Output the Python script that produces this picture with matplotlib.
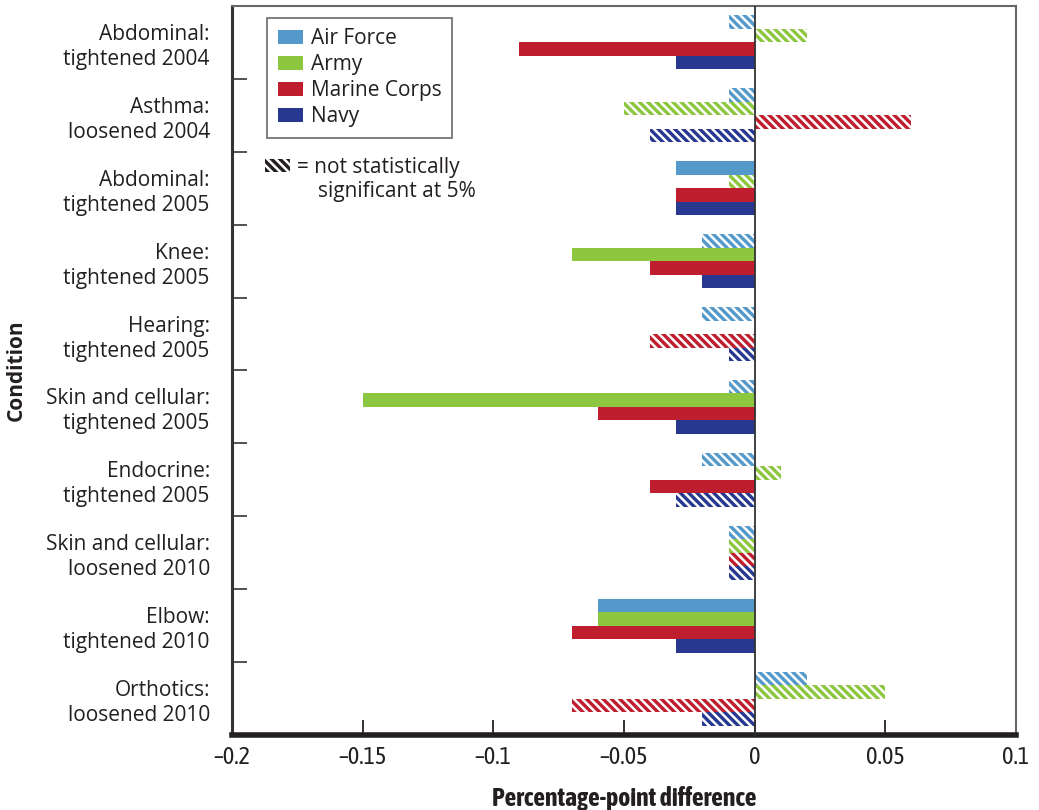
import matplotlib
matplotlib.use("Agg")
import matplotlib.pyplot as plt
import numpy as np
from matplotlib.patches import Patch, Rectangle

categories = [
    "Abdominal:\ntightened 2004",
    "Asthma:\nloosened 2004",
    "Abdominal:\ntightened 2005",
    "Knee:\ntightened 2005",
    "Hearing:\ntightened 2005",
    "Skin and cellular:\ntightened 2005",
    "Endocrine:\ntightened 2005",
    "Skin and cellular:\nloosened 2010",
    "Elbow:\ntightened 2010",
    "Orthotics:\nloosened 2010",
]
series_names = ["Air Force", "Army", "Marine Corps", "Navy"]
air_force = [-0.01, -0.01, -0.03, -0.02, -0.02, -0.01, -0.02, -0.01, -0.06, 0.02]
army = [0.02, -0.05, -0.01, -0.07, 0.0, -0.15, 0.01, -0.01, -0.06, 0.05]
marine_corps = [-0.09, 0.06, -0.03, -0.04, -0.04, -0.06, -0.04, -0.01, -0.07, -0.07]
navy = [-0.03, -0.04, -0.03, -0.02, -0.01, -0.03, -0.03, -0.01, -0.03, -0.02]
# True = statistically significant (solid), False = hatched
air_force_sig = [False, False, True, False, False, False, False, False, True, False]
army_sig = [False, False, False, True, False, True, False, False, True, False]
marine_corps_sig = [True, False, True, True, False, True, True, False, True, False]
navy_sig = [True, False, True, True, False, True, False, False, True, False]
x_ticks = [-0.2, -0.15, -0.1, -0.05, 0, 0.05, 0.1]
x_tick_labels = ["\u20130.2", "\u20130.15", "\u20130.1", "\u20130.05", "0", "0.05", "0.1"]

colors = ["#5499C9", "#8DC63F", "#BE1E2D", "#283891"]
values = [air_force, army, marine_corps, navy]
sigs = [air_force_sig, army_sig, marine_corps_sig, navy_sig]

COND = ['Asap Condensed', 'DejaVu Sans']
HATCH = '\\\\\\\\'

plt.rcParams['font.family'] = ['Open Sans', 'DejaVu Sans']
plt.rcParams['hatch.linewidth'] = 1.8

fig = plt.figure(figsize=(10.39, 8.10), dpi=100)
ax = fig.add_axes([232/1039, 1 - 735/810, (1016-232)/1039, (735-6)/810])

bar_h = 0.185
y = np.arange(len(categories))
for k, (vals, sg, col) in enumerate(zip(values, sigs, colors)):
    offs = (k - 1.5) * bar_h
    for i, (v, s) in enumerate(zip(vals, sg)):
        if v == 0:
            continue
        if s:
            ax.barh(y[i] + offs, v, height=bar_h, color=col, linewidth=0)
        else:
            ax.barh(y[i] + offs, v, height=bar_h, color=col, hatch=HATCH,
                    edgecolor='white', linewidth=0)

ax.set_ylim(len(categories) - 0.5, -0.5)
ax.set_xlim(-0.2, 0.1)
ax.axvline(0, color='#333333', linewidth=1.3, zorder=3)

ax.set_yticks(y)
ax.set_yticklabels(categories, fontsize=15, color='#231F20', linespacing=1.25)
ax.tick_params(axis='y', which='major', length=0, pad=16)
ax.set_yticks(np.arange(0.5, len(categories) - 0.5, 1), minor=True)
ax.tick_params(axis='y', which='minor', direction='in', length=11, width=1.3, color='#444444')

ax.set_xticks(x_ticks)
ax.set_xticklabels(x_tick_labels, fontsize=17.5, family=COND, color='#231F20')
ax.tick_params(axis='x', direction='in', length=11, width=1.3, color='#222222', pad=8)

for side in ['top', 'right']:
    ax.spines[side].set_color('#666666')
    ax.spines[side].set_linewidth(1.5)
ax.spines['left'].set_color('#333333')
ax.spines['left'].set_linewidth(2.2)
ax.spines['bottom'].set_color('#231F20')
ax.spines['bottom'].set_linewidth(4)

ax.set_xlabel("Percentage-point difference", fontsize=18.5, fontweight='bold',
              family=COND, labelpad=12, color='#231F20')
ax.set_ylabel("Condition", fontsize=15, fontweight='bold', color='#231F20')
ax.yaxis.set_label_coords(-0.262, 0.5)

handles = [Patch(facecolor=c, edgecolor='none', label=n) for c, n in zip(colors, series_names)]
leg = ax.legend(handles=handles, loc='upper left', bbox_to_anchor=(0.045, 1 - 12 / 729),
                fontsize=15, frameon=True, fancybox=False, edgecolor='#444444',
                handlelength=1.2, handleheight=0.65, handletextpad=0.4, labelspacing=0.24,
                borderpad=0.5, borderaxespad=0)
leg.get_frame().set_linewidth(1.2)
for t in leg.get_texts():
    t.set_color('#231F20')

# hatched key (positions in axes fractions)
kx = (265 - 232) / 784
kw = 25 / 784
ky = 1 - (172 - 6) / 729
kh = 13 / 729
rect = Rectangle((kx, ky), kw, kh, facecolor='#231F20', hatch=HATCH, edgecolor='white',
                 linewidth=0, transform=ax.transAxes, zorder=4)
ax.add_patch(rect)
ax.text((297 - 232) / 784, 1 - (167 - 6) / 729, "= not statistically",
        fontsize=15, va='center', ha='left', color='#231F20', transform=ax.transAxes)
ax.text((318 - 232) / 784, 1 - (192 - 6) / 729, "significant at 5%",
        fontsize=15, va='center', ha='left', color='#231F20', transform=ax.transAxes)

fig.savefig("out.png", dpi=100)
